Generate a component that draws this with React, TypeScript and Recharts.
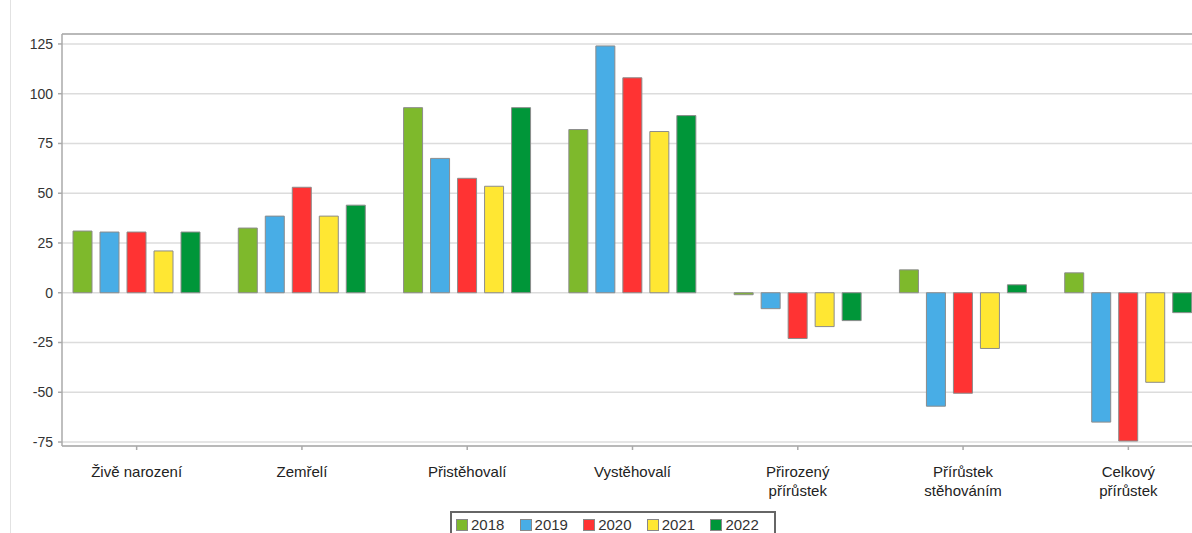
import React from "react";
import {
  BarChart,
  Bar,
  XAxis,
  YAxis,
  CartesianGrid,
  ReferenceLine,
} from "recharts";

const categories = [
  ["Živě narození"],
  ["Zemřelí"],
  ["Přistěhovalí"],
  ["Vystěhovalí"],
  ["Přirozený", "přírůstek"],
  ["Přírůstek", "stěhováním"],
  ["Celkový", "přírůstek"],
];

const years = ["2018", "2019", "2020", "2021", "2022"];
const colors = ["#7eb92c", "#48ade6", "#ff3333", "#ffe733", "#009639"];

const v2018 = [31, 32.5, 93, 82, -1, 11.5, 10];
const v2019 = [30.5, 38.5, 67.5, 124, -8, -57, -65];
const v2020 = [30.5, 53, 57.5, 108, -23, -50.5, -74.5];
const v2021 = [21, 38.5, 53.5, 81, -17, -28, -45];
const v2022 = [30.5, 44, 93, 89, -14, 4, -10];

const yTicks = [-75, -50, -25, 0, 25, 50, 75, 100, 125];

const series = [v2018, v2019, v2020, v2021, v2022];

const data = categories.map((c, i) => {
  const row: Record<string, any> = { name: c.join(" ") };
  years.forEach((y, k) => {
    row[y] = series[k][i];
  });
  return row;
});

const font = "'Liberation Sans', Arial, sans-serif";

function CategoryTick(props: any) {
  const { x, y, payload } = props;
  const lines = categories[payload.index] || [payload.value];
  return (
    <g>
      {lines.map((l: string, i: number) => (
        <text
          key={i}
          x={x}
          y={y + 27 + i * 19}
          textAnchor="middle"
          fontSize={15}
          fontFamily={font}
          fill="#222"
        >
          {l}
        </text>
      ))}
    </g>
  );
}

function Legend() {
  return (
    <div
      style={{
        position: "absolute",
        left: 450,
        top: 511,
        width: 326,
        height: 40,
        border: "2px solid #666",
        display: "flex",
        alignItems: "flex-start",
        paddingLeft: 4,
        paddingTop: 3,
        boxSizing: "border-box",
        fontFamily: font,
        fontSize: 15,
        lineHeight: "17px",
        color: "#333",
        background: "#fff",
      }}
    >
      {years.map((y, i) => (
        <div
          key={y}
          style={{ display: "flex", alignItems: "center", width: 65.5 }}
        >
          <span
            style={{
              display: "inline-block",
              width: 10,
              height: 10,
              background: colors[i],
              border: "1px solid #888",
              marginRight: 3,
            }}
          />
          <span>{y}</span>
        </div>
      ))}
    </div>
  );
}

export default function App() {
  return (
    <div
      style={{
        position: "absolute",
        left: 0,
        top: 0,
        width: 1192,
        height: 533,
        overflow: "hidden",
        background: "#fff",
      }}
    >
      <div
        style={{
          position: "absolute",
          left: 10,
          top: 0,
          width: 1,
          height: 533,
          background: "#e2e2e2",
        }}
      />
      <BarChart
        width={1215}
        height={533}
        data={data}
        margin={{ top: 34, right: 4, left: 0, bottom: 0 }}
        barSize={19}
        barGap={8}
      >
        <CartesianGrid vertical={false} stroke="#dcdcdc" strokeWidth={1.5} />
        <ReferenceLine y={130} stroke="#aaa" strokeWidth={1.5} />
        <XAxis
          dataKey="name"
          height={87}
          padding={{ left: -8, right: 0 }}
          interval={0}
          tickSize={4}
          tickMargin={0}
          stroke="#aaa"
          strokeWidth={1.5}
          tick={<CategoryTick />}
        />
        <YAxis
          width={62}
          domain={[-77, 130]}
          ticks={yTicks}
          interval={0}
          tickSize={4}
          tickMargin={5}
          stroke="#aaa"
          strokeWidth={1.5}
          tick={{ fontSize: 14, fontFamily: font, fill: "#333" }}
        />
        {years.map((y, i) => (
          <Bar
            key={y}
            dataKey={y}
            fill={colors[i]}
            stroke="#8c8c8c"
            strokeWidth={1}
            isAnimationActive={false}
          />
        ))}
      </BarChart>
      <Legend />
    </div>
  );
}
